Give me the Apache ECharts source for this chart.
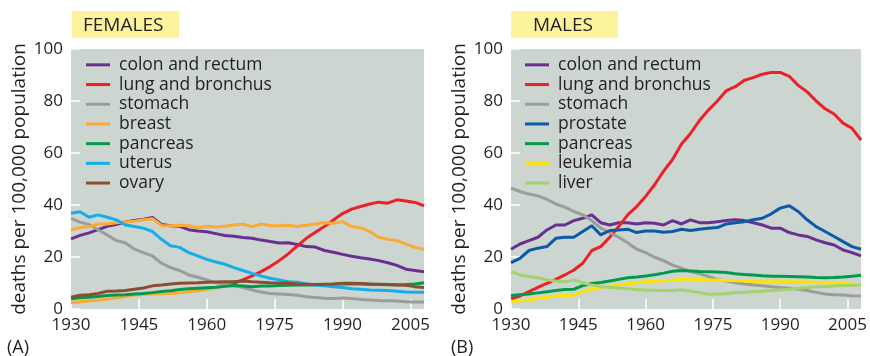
<!DOCTYPE html>
<html>
<head>
<meta charset="utf-8">
<script src="https://cdn.jsdelivr.net/npm/echarts@6/dist/echarts.min.js"></script>
<style>
  html, body { margin: 0; padding: 0; background: #ffffff; }
  #chart { width: 870px; height: 356px; }
</style>
</head>
<body>
<div id="chart"></div>
<script>
// Cancer death rates per 100,000 population, 1930-2008, sampled every two years
const years = [1930, 1932, 1934, 1936, 1938, 1940, 1942, 1944, 1946, 1948,
               1950, 1952, 1954, 1956, 1958, 1960, 1962, 1964, 1966, 1968,
               1970, 1972, 1974, 1976, 1978, 1980, 1982, 1984, 1986, 1988,
               1990, 1992, 1994, 1996, 1998, 2000, 2002, 2004, 2006, 2008];

const xTicks = [1930, 1945, 1960, 1975, 1990, 2005];

// Females
const fColon    = [27, 28.3, 29.3, 30.5, 31.8, 32.5, 33.5, 34, 34.5, 35.2,
                   32.5, 32, 31.8, 30.5, 30, 29.7, 29, 28.3, 28, 27.5,
                   27.2, 26.5, 26, 25.4, 25.5, 24.8, 24, 23.8, 22.5, 21.8,
                   21, 20.3, 19.7, 19.2, 18.6, 17.8, 16.8, 15.3, 14.8, 14.3];
const fLung     = [2.5, 2.8, 3.1, 3.4, 3.8, 4.2, 4.8, 5.4, 5.7, 5.8,
                   5.9, 6.0, 6.2, 6.6, 7.0, 7.5, 8.2, 8.8, 9.9, 11.2,
                   12.7, 14.4, 16.3, 18.6, 21.2, 24.3, 27.2, 29.5, 31.7, 34.2,
                   36.7, 38.4, 39.4, 40.4, 41.1, 40.7, 42, 41.5, 41, 39.7];
const fStomach  = [34.9, 33.4, 32.5, 30.5, 28.5, 26.3, 25.5, 23, 21.7, 20.4,
                   17.6, 15.9, 14.8, 13.1, 12.2, 11.2, 10.1, 9.6, 9, 8.3,
                   7.3, 6.5, 6, 5.8, 5.6, 5.3, 4.7, 4.4, 4.1, 4,
                   4.2, 4, 3.7, 3.5, 3.3, 3.2, 3.1, 2.8, 2.7, 2.7];
const fBreast   = [30.4, 31.3, 31.7, 32.7, 32.7, 33.2, 33.5, 33.8, 34.3, 34.7,
                   32.1, 32, 32.2, 32, 31.3, 31.7, 31.5, 31.8, 32.3, 32.6,
                   31.7, 32.6, 32.1, 32, 32.2, 31.7, 32.2, 32.7, 33.2, 33,
                   33.6, 31.7, 31.2, 29.8, 27.6, 26.8, 26.3, 25, 23.7, 23];
const fPancreas = [3.9, 4.3, 4.5, 4.8, 5.2, 5.4, 5.5, 5.8, 6, 6.3,
                   6.7, 7.0, 7.5, 7.8, 8, 8.2, 8.4, 8.7, 9, 8.8,
                   8.6, 8.8, 8.8, 9, 9.1, 9.2, 9.2, 9.3, 9.4, 9.5,
                   9.6, 9.7, 9.6, 9.5, 9.4, 9.3, 9.3, 9.4, 9.6, 10.1];
const fUterus   = [36.8, 37.4, 35.3, 36.2, 35.3, 34.3, 32.3, 31.7, 31.1, 29.8,
                   26.8, 24.3, 23.7, 21.7, 20.4, 19.1, 18.1, 17.2, 15.9, 14.8,
                   13.7, 12.7, 11.8, 11.2, 10.5, 10.3, 9.6, 9.1, 8.9, 8.6,
                   8.3, 7.8, 7.6, 7.3, 7.2, 7.1, 6.8, 6.5, 6.4, 6.4];
const fOvary    = [4.5, 5.3, 5.5, 6, 6.8, 6.9, 7.1, 7.6, 8.1, 8.9,
                   9.2, 9.6, 9.9, 10, 10.1, 10.3, 10.4, 10.5, 10.5, 10.8,
                   10.5, 10.3, 10.1, 10, 9.9, 9.6, 9.5, 9.4, 9.5, 9.6,
                   9.9, 9.9, 9.8, 9.6, 9.5, 9.4, 9.2, 9.1, 8.6, 8.3];

// Males
const mColon    = [23, 25, 26.3, 27.6, 30.4, 32.3, 32.3, 34, 34.9, 36.2,
                   33.2, 32.3, 33.2, 33.2, 32.7, 33.2, 33, 32.3, 34, 32.7,
                   34.3, 33.2, 33.2, 33.6, 34, 34.3, 34, 33.2, 32.3, 31.1,
                   31.1, 29.4, 28.5, 27.9, 26.6, 25.5, 24.6, 22.7, 21.7, 20.4];
const mLung     = [3.9, 5, 6.7, 8.3, 9.9, 11.4, 13.1, 15, 17.6, 22.5,
                   24, 27.6, 31.7, 36.2, 39.4, 43.3, 47.8, 53, 57.5, 63.5,
                   67.5, 72.5, 76.5, 80, 84, 85.5, 88, 89, 90.3, 91,
                   91, 89.5, 86, 83.5, 80, 77, 75, 71.5, 69.5, 65];
const mStomach  = [46.5, 45.2, 44.2, 43.5, 42.2, 40.4, 39.2, 37.5, 36.2, 34,
                   31.1, 29.4, 27.6, 25.5, 23, 21.7, 19.9, 18.6, 16.9, 15.7,
                   14.4, 13.5, 12.5, 11.4, 10.8, 10.1, 9.6, 9.2, 8.9, 8.6,
                   8.3, 8, 7.6, 7.1, 6.4, 5.8, 5.5, 5.4, 5.1, 5];
const mProstate = [17.8, 19.5, 22.5, 23.4, 24, 27.2, 27.6, 27.6, 29.8, 32,
                   28.5, 30.2, 30.4, 30.7, 29.4, 30, 30, 29.5, 29.8, 30.7,
                   30.2, 30.7, 31.1, 31.3, 32.7, 33.2, 33.6, 34.3, 34.9, 36.6,
                   38.8, 39.7, 37.5, 34.3, 31.7, 29.8, 27.9, 25.9, 24, 23];
const mPancreas = [5.2, 5.5, 5.8, 6.2, 6.6, 7.1, 7.5, 7.6, 9.0, 9.8,
                   10.2, 10.8, 11.4, 12, 12.3, 12.7, 13.2, 13.8, 14.5, 14.8,
                   14.6, 14.4, 14.3, 14.2, 14, 13.6, 13.3, 13.1, 12.8, 12.6,
                   12.6, 12.5, 12.4, 12.3, 12.1, 12, 12.1, 12.3, 12.6, 13];
const mLeukemia = [2.8, 3.2, 3.5, 4.0, 4.5, 5, 5.2, 5.4, 6.7, 7.6,
                   8.3, 8.8, 9.3, 9.7, 10.1, 10.5, 10.8, 10.9, 11.1, 11.4,
                   11.4, 11.3, 11.2, 11.2, 11, 10.9, 10.8, 10.6, 10.5, 10.5,
                   10.5, 10.5, 10.4, 10.4, 10.3, 10.1, 10, 9.9, 9.6, 9.2];
const mLiver    = [14.4, 13.1, 12.5, 12, 11.2, 10.8, 10.5, 11.2, 10.1, 9.2,
                   8.6, 8.4, 8.1, 7.8, 7.5, 7.3, 7.2, 7.1, 7.1, 7.3,
                   6.9, 6.3, 5.7, 5.8, 6, 6.3, 6.4, 6.6, 6.8, 7.1,
                   7.3, 7.6, 8, 8.3, 8.6, 8.6, 8.8, 9, 9.1, 9.2];

// year up to which the female lung curve is drawn in the breast colour
const fLungEarlyEnd = 1964;

const C = {
  colon: '#6b2f90', lung: '#ec2027', stomach: '#9b9d9c', breast: '#fbab35',
  pancreas: '#03994b', uterus: '#14aee8', ovary: '#8c4c31', prostate: '#0b5aa8',
  leukemia: '#fde400', liver: '#a5d36b'
};

const FONT = 'Open Sans';
const TEXT = '#231f20';
const PLOT_BG = '#ccd5d0';

function pairs(vals, from, to) {
  return years.map((y, i) =>
    [y, (y >= (from ?? -Infinity) && y <= (to ?? Infinity)) ? vals[i] : null]);
}

function line(name, data, color, gi) {
  return {
    name: name, type: 'line', xAxisIndex: gi, yAxisIndex: gi,
    data: data, showSymbol: false, symbol: 'none', smooth: false,
    connectNulls: false,
    lineStyle: { color: color, width: 3 }, itemStyle: { color: color },
    emphasis: { disabled: true }, silent: true
  };
}

const females = [
  ['colon and rectum', fColon, C.colon],
  ['lung and bronchus', fLung, C.lung],
  ['stomach', fStomach, C.stomach],
  ['breast', fBreast, C.breast],
  ['pancreas', fPancreas, C.pancreas],
  ['uterus', fUterus, C.uterus],
  ['ovary', fOvary, C.ovary]
];
const males = [
  ['colon and rectum', mColon, C.colon],
  ['lung and bronchus', mLung, C.lung],
  ['stomach', mStomach, C.stomach],
  ['prostate', mProstate, C.prostate],
  ['pancreas', mPancreas, C.pancreas],
  ['leukemia', mLeukemia, C.leukemia],
  ['liver', mLiver, C.liver]
];

const series = [];
// early low part of the female lung curve, drawn first so the others sit on top
series.push(line('lung early', pairs(fLung, null, fLungEarlyEnd), C.breast, 0));
females.forEach(s => {
  const data = s[1] === fLung ? pairs(fLung, fLungEarlyEnd, null) : pairs(s[1]);
  series.push(line(s[0], data, s[2], 0));
});
males.forEach(s => series.push(line(s[0], pairs(s[1]), s[2], 1)));

function xAxis(gi) {
  return {
    type: 'value', gridIndex: gi, min: 1930, max: 2008, interval: 15,
    axisLine: { show: false },
    axisTick: { show: true, inside: true, length: 10, customValues: xTicks,
                lineStyle: { color: '#ffffff', width: 1.5 } },
    axisLabel: { customValues: xTicks, formatter: v => String(v), margin: 8,
                 fontFamily: FONT, fontSize: 17, color: TEXT },
    splitLine: { show: false }
  };
}
function yAxis(gi) {
  return {
    type: 'value', gridIndex: gi, min: 0, max: 100, interval: 20,
    name: 'deaths per 100,000 population', nameLocation: 'middle', nameGap: 42,
    nameRotate: 90,
    nameTextStyle: { fontFamily: FONT, fontSize: 19, color: TEXT },
    axisLine: { show: false },
    axisTick: { show: true, inside: true, length: 9,
                lineStyle: { color: '#ffffff', width: 1.5 } },
    axisLabel: { margin: 8, fontFamily: FONT, fontSize: 17, color: TEXT },
    splitLine: { show: false }
  };
}
function legend(left, list) {
  return {
    data: list.map(s => s[0]),
    orient: 'vertical', left: left, top: 55, padding: 0,
    icon: 'rect', itemWidth: 24, itemHeight: 3, itemGap: 0,
    selectedMode: false,
    textStyle: { fontFamily: FONT, fontSize: 17.5, color: TEXT, lineHeight: 19.7,
                 padding: [0, 0, 0, 4] }
  };
}

const chart = echarts.init(document.getElementById('chart'), null, { renderer: 'canvas' });
chart.setOption({
  animation: false,
  backgroundColor: '#ffffff',
  grid: [
    { left: 71, top: 49, width: 353, height: 260, show: true,
      backgroundColor: PLOT_BG, borderWidth: 0 },
    { left: 511, top: 49, width: 353, height: 260, show: true,
      backgroundColor: PLOT_BG, borderWidth: 0 }
  ],
  xAxis: [xAxis(0), xAxis(1)],
  yAxis: [yAxis(0), yAxis(1)],
  legend: [legend(86, females), legend(525, males)],
  graphic: [
    { type: 'rect', left: 72, top: 11, shape: { width: 107, height: 27 },
      style: { fill: '#fdf39d' }, silent: true },
    { type: 'text', x: 83, y: 26, silent: true,
      style: { text: 'FEMALES', font: '19px "Open Sans"', fill: TEXT, verticalAlign: 'middle' } },
    { type: 'rect', left: 511, top: 11, shape: { width: 107, height: 27 },
      style: { fill: '#fdf39d' }, silent: true },
    { type: 'text', x: 533, y: 26, silent: true,
      style: { text: 'MALES', font: '19px "Open Sans"', fill: TEXT, verticalAlign: 'middle' } },
    { type: 'text', x: 7, y: 348, silent: true,
      style: { text: '(A)', font: '18px "Open Sans"', fill: TEXT, verticalAlign: 'middle' } },
    { type: 'text', x: 451, y: 348, silent: true,
      style: { text: '(B)', font: '18px "Open Sans"', fill: TEXT, verticalAlign: 'middle' } }
  ],
  series: series
});
</script>
</body>
</html>
